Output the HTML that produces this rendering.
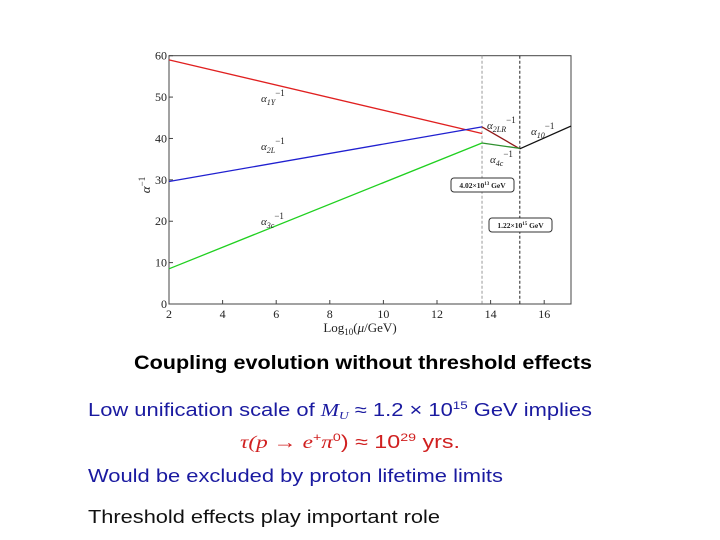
<!DOCTYPE html>
<html><head><meta charset="utf-8"><style>
body{margin:0;background:#fff;width:720px;height:540px;overflow:hidden;font-family:"Liberation Sans",sans-serif}
svg{display:block}
</style></head><body>
<svg id="chart" width="720" height="540" xmlns="http://www.w3.org/2000/svg">
<g id="plot"></g>
<g font-family="Liberation Sans, sans-serif">
<text x="134" y="369" font-size="19" font-weight="bold" textLength="458" lengthAdjust="spacingAndGlyphs">Coupling evolution without threshold effects</text>
<text x="88" y="416" font-size="18" fill="#1a1aa0" textLength="504" lengthAdjust="spacingAndGlyphs">Low unification scale of <tspan font-family="Liberation Serif" font-style="italic">M<tspan font-size="11" dy="3">U</tspan></tspan><tspan dy="-3"> ≈ 1.2 × 10</tspan><tspan font-size="11" dy="-7">15</tspan><tspan dy="7"> GeV implies</tspan></text>
<text x="240" y="448" font-size="18" fill="#d02020" textLength="220" lengthAdjust="spacingAndGlyphs"><tspan font-family="Liberation Serif" font-style="italic">τ(p → e</tspan><tspan font-size="11" dy="-7">+</tspan><tspan dy="7" font-family="Liberation Serif" font-style="italic">π</tspan><tspan font-size="11" dy="-7">0</tspan><tspan dy="7">) ≈ 10</tspan><tspan font-size="11" dy="-7">29</tspan><tspan dy="7"> yrs.</tspan></text>
<text x="88" y="482" font-size="18" fill="#1a1aa0" textLength="415" lengthAdjust="spacingAndGlyphs">Would be excluded by proton lifetime limits</text>
<text x="88" y="523" font-size="18" fill="#111" textLength="352" lengthAdjust="spacingAndGlyphs">Threshold effects play important role</text>
</g>
</svg>
<script>
const xTicks=[2,4,6,8,10,12,14,16];
const yTicks=[0,10,20,30,40,50,60];
const thresholds=[13.68,15.09];
const lowX=[2,13.68];
const alpha1=[59.0,41.2];
const alpha2=[29.6,42.8];
const alpha3=[8.5,38.9];
const midX=[13.68,15.09];
const alpha2LR=[42.8,37.5];
const alpha4=[38.9,37.6];
const highX=[15.09,17];
const alpha10=[37.5,43.0];

const X0=169,X1=571,XMIN=2,XMAX=17,Y0=304,Y1=55.7,YMIN=0,YMAX=60;
const sx=v=>X0+(v-XMIN)/(XMAX-XMIN)*(X1-X0);
const sy=v=>Y0-(v-YMIN)/(YMAX-YMIN)*(Y0-Y1);
const NS="http://www.w3.org/2000/svg";
const g=document.getElementById('plot');
function el(t,a){const e=document.createElementNS(NS,t);for(const k in a)e.setAttribute(k,a[k]);g.appendChild(e);return e;}

const frame=el('rect',{x:X0,y:Y1,width:X1-X0,height:Y0-Y1,fill:'none',stroke:'#444','stroke-width':1});


xTicks.forEach(t=>{
  const l=el('line',{x1:sx(t),x2:sx(t),y1:Y0,y2:Y0-4,stroke:'#444'});
  
  
  const tx=el('text',{x:sx(t),y:Y0+14,'font-size':12,'text-anchor':'middle','font-family':'Liberation Serif, serif',fill:'#222'});
  tx.textContent=t;
  
  
});
yTicks.forEach(t=>{
  const l=el('line',{x1:X0,x2:X0+4,y1:sy(t),y2:sy(t),stroke:'#444'});
  
  
  const tx=el('text',{x:X0-2,y:sy(t)+4,'font-size':12,'text-anchor':'end','font-family':'Liberation Serif, serif',fill:'#222'});
  tx.textContent=t;
  
  
});
const xt=el('text',{x:(X0+X1)/2-10,y:Y0+28,'font-size':13,'text-anchor':'middle','font-family':'Liberation Serif, serif',fill:'#222'});
xt.innerHTML='Log<tspan font-size="9" dy="3">10</tspan><tspan dy="-3">(</tspan><tspan font-style="italic">μ</tspan>/GeV)';


const yt=el('text',{x:150,y:185,'font-size':13,'text-anchor':'middle','font-family':'Liberation Serif, serif',fill:'#222',transform:'rotate(-90 150 185)'});
yt.innerHTML='<tspan font-style="italic">α</tspan><tspan font-size="9" dy="-5">−1</tspan>';



thresholds.forEach((t,i)=>{
  const l=el('line',{x1:sx(t),x2:sx(t),y1:Y1,y2:Y0,stroke:i?'#222':'#999','stroke-dasharray':'3,2','stroke-width':1});
  
  
});
function line(xs,ys,c,name){
  const p=el('polyline',{points:xs.map((x,i)=>sx(x)+','+sy(ys[i])).join(' '),fill:'none',stroke:c,'stroke-width':1.3});
  
  
}
line(lowX,alpha1,'#e02020','alpha1-line');
line(lowX,alpha2,'#2020d0','alpha2-line');
line(lowX,alpha3,'#20d020','alpha3-line');
line(midX,alpha2LR,'#901818','alpha2lr-line');
line(midX,alpha4,'#309030','alpha4-line');
line(highX,alpha10,'#111','alpha10-line');

function label(x,y,main,sub,name){
  const t=el('text',{x:x,y:y,'font-size':11,'font-family':'Liberation Serif, serif','font-style':'italic',fill:'#222'});
  t.innerHTML='α<tspan font-size="8" dy="3">'+sub+'</tspan><tspan font-size="9" dy="-9" font-style="normal">−1</tspan>';
  
  
}
label(261,102,'α','1Y','alpha1-label');
label(261,150,'α','2L','alpha2-label');
label(261,225,'α','3c','alpha3-label');
label(487,129,'α','2LR','alpha2lr-label');
label(531,135,'α','10','alpha10-label');
label(490,163,'α','4c','alpha4-label');

function box(x,y,w,txt,name){
  const r=el('rect',{x:x,y:y,width:w,height:14,rx:3,fill:'#fff',stroke:'#333'});
  
  
  const t=el('text',{x:x+w/2,y:y+10,'font-size':7.5,'text-anchor':'middle','font-family':'Liberation Serif, serif',fill:'#222','font-weight':'bold'});
  t.innerHTML=txt;
  
  
}
box(451,178,63,'4.02×10<tspan font-size="5" dy="-3">13</tspan><tspan dy="3"> GeV</tspan>','threshold-box-1');
box(489,218,63,'1.22×10<tspan font-size="5" dy="-3">15</tspan><tspan dy="3"> GeV</tspan>','threshold-box-2');
</script>
</body></html>
